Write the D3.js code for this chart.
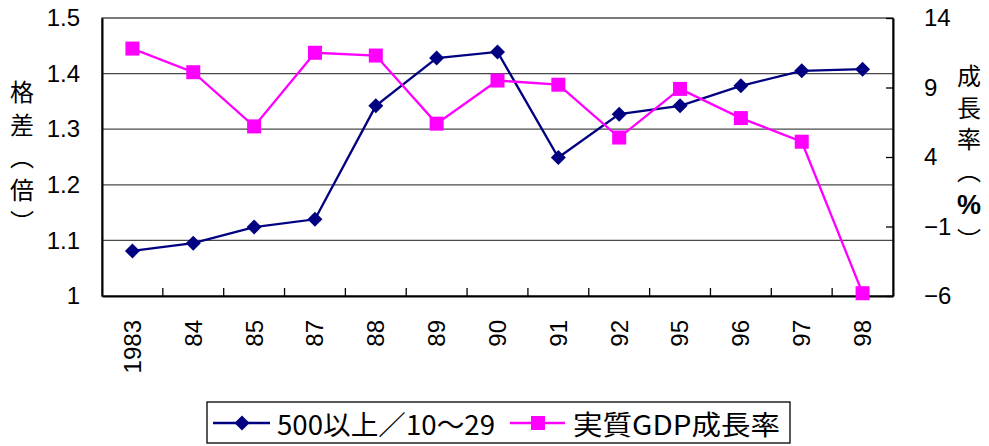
<!DOCTYPE html>
<html><head><meta charset="utf-8">
<script src="https://cdn.jsdelivr.net/npm/d3@7"></script>
<style>
body{margin:0;background:#fff;}
text{font-family:"Liberation Sans",Arial,sans-serif;fill:#000;}
.cjk{font-family:"Noto Sans CJK JP","Noto Sans CJK SC",sans-serif;}
.vt{writing-mode:vertical-rl;text-orientation:upright;}
</style></head>
<body><svg id="c" width="989" height="446"></svg>
<script>
const categories = ["1983","84","85","87","88","89","90","91","92","95","96","97","98"];
const ratio = [1.081,1.095,1.124,1.138,1.342,1.428,1.439,1.249,1.327,1.342,1.378,1.405,1.408];
const gdp = [11.8,10.1,6.2,11.5,11.3,6.4,9.5,9.2,5.4,8.9,6.8,5.1,-5.8];
const leftTicks = [1,1.1,1.2,1.3,1.4,1.5];
const rightTicks = [-6,-1,4,9,14];
const seriesNames = ["500以上／10～29","実質GDP成長率"];
const leftTitle = ["格差（倍）"];
const rightTitle = ["成長率（","%","）"];

const svg = d3.select("#c");
const L=102,R=893,T=18,B=296;
const x = d3.scaleBand().domain(categories).range([L,R]);
const yL = d3.scaleLinear().domain([1,1.5]).range([B,T]);
const yR = d3.scaleLinear().domain([-6,14]).range([B,T]);

// gridlines
svg.append("g").selectAll("line").data(leftTicks.filter(d=>d>1&&d<1.5)).join("line")
  .attr("x1",L).attr("x2",R).attr("y1",d=>yL(d)).attr("y2",d=>yL(d))
  .attr("stroke","#4a4a4a").attr("stroke-width",1.3);
// border
svg.append("rect").attr("x",L).attr("y",T).attr("width",R-L).attr("height",B-T)
  .attr("fill","none").attr("stroke","#333").attr("stroke-width",1.3);

// left axis
const gl = svg.append("g").attr("transform",`translate(${L},0)`)
  .call(d3.axisLeft(yL).tickValues(leftTicks).tickFormat(d=>d===1?"1":d3.format(".1f")(d)).tickSize(0).tickPadding(22));
gl.select(".domain").attr("stroke","#000").attr("stroke-width",2);
gl.selectAll("text").attr("font-size",24).style("font-family","Liberation Sans").style("fill","#000");
// right axis
const gr = svg.append("g").attr("transform",`translate(${R},0)`)
  .call(d3.axisRight(yR).tickValues(rightTicks).tickFormat(d=>d<0?"−"+Math.abs(d):d).tickSizeInner(-7).tickSizeOuter(0).tickPadding(31));
gr.select(".domain").attr("stroke","#000").attr("stroke-width",2);
gr.selectAll("line").attr("stroke","#000").attr("stroke-width",1.3);
gr.selectAll("text").attr("font-size",24).style("font-family","Liberation Sans").style("fill","#000");
// bottom axis
const gb = svg.append("g").attr("transform",`translate(0,${B})`)
  .call(d3.axisBottom(x).tickSize(0).tickPadding(0));
gb.select(".domain").attr("stroke","#000").attr("stroke-width",2);
gb.selectAll("text").attr("font-size",24).style("font-family","Liberation Sans").style("fill","#000")
  .attr("transform",`translate(0,24) rotate(-90)`).attr("text-anchor","end").attr("dy","0.35em").attr("x",0).attr("y",0);
// category boundary ticks (inward)
svg.append("g").selectAll("line").data(categories.slice(1)).join("line")
  .attr("x1",d=>x(d)).attr("x2",d=>x(d)).attr("y1",B).attr("y2",B-8)
  .attr("stroke","#000").attr("stroke-width",1.3);

// vertical titles
const lt = svg.append("text").attr("class","cjk vt").attr("x",22).attr("y",80)
  .attr("font-size",24).attr("letter-spacing",8.5);
lt.selectAll("tspan").data(leftTitle).join("tspan").text(d=>d);
const rt = svg.append("text").attr("class","cjk vt").attr("x",969).attr("y",64)
  .attr("font-size",24).attr("letter-spacing",7.5);
rt.selectAll("tspan").data(rightTitle).join("tspan")
  .attr("font-weight",d=>d==="%"?"bold":null)
  .attr("font-size",d=>d==="%"?27:null)
  .style("font-family",d=>d==="%"?"Liberation Sans":null)
  .text(d=>d);

// lines
const cx = d=>x(d)+x.bandwidth()/2;
const blue="#000080", pink="#FF00FF";
svg.append("path").datum(ratio).attr("fill","none").attr("stroke",blue).attr("stroke-width",2.3)
  .attr("d",d3.line().x((d,i)=>cx(categories[i])).y(d=>yL(d)));
svg.append("path").datum(gdp).attr("fill","none").attr("stroke",pink).attr("stroke-width",2.3)
  .attr("d",d3.line().x((d,i)=>cx(categories[i])).y(d=>yR(d)));
svg.append("g").selectAll("path").data(ratio).join("path")
  .attr("transform",(d,i)=>`translate(${cx(categories[i])},${yL(d)})`)
  .attr("d","M0,-7.5L7.5,0L0,7.5L-7.5,0Z").attr("fill",blue);
svg.append("g").selectAll("rect").data(gdp).join("rect")
  .attr("x",(d,i)=>cx(categories[i])-7).attr("y",d=>yR(d)-7).attr("width",14).attr("height",14).attr("fill",pink);

// legend
const lg = svg.append("g");
const ly=423;
lg.append("rect").attr("x",207).attr("y",402).attr("width",583).attr("height",41).attr("fill","#fff").attr("stroke","#000").attr("stroke-width",1.3);
lg.append("line").attr("x1",213).attr("x2",270).attr("y1",ly).attr("y2",ly).attr("stroke",blue).attr("stroke-width",2.3);
lg.append("path").attr("transform",`translate(242,${ly})`).attr("d","M0,-7.5L7.5,0L0,7.5L-7.5,0Z").attr("fill",blue);
lg.append("text").attr("class","cjk").attr("x",277).attr("y",ly).attr("dominant-baseline","central").attr("font-size",27)
  .attr("textLength",218).attr("lengthAdjust","spacingAndGlyphs").text(seriesNames[0]);
lg.append("line").attr("x1",510).attr("x2",565).attr("y1",ly).attr("y2",ly).attr("stroke",pink).attr("stroke-width",2.3);
lg.append("rect").attr("x",531).attr("y",ly-7).attr("width",14).attr("height",14).attr("fill",pink);
lg.append("text").attr("class","cjk").attr("x",573).attr("y",ly).attr("dominant-baseline","central").attr("font-size",27)
  .attr("textLength",207).attr("lengthAdjust","spacingAndGlyphs").text(seriesNames[1]);
</script></body></html>
